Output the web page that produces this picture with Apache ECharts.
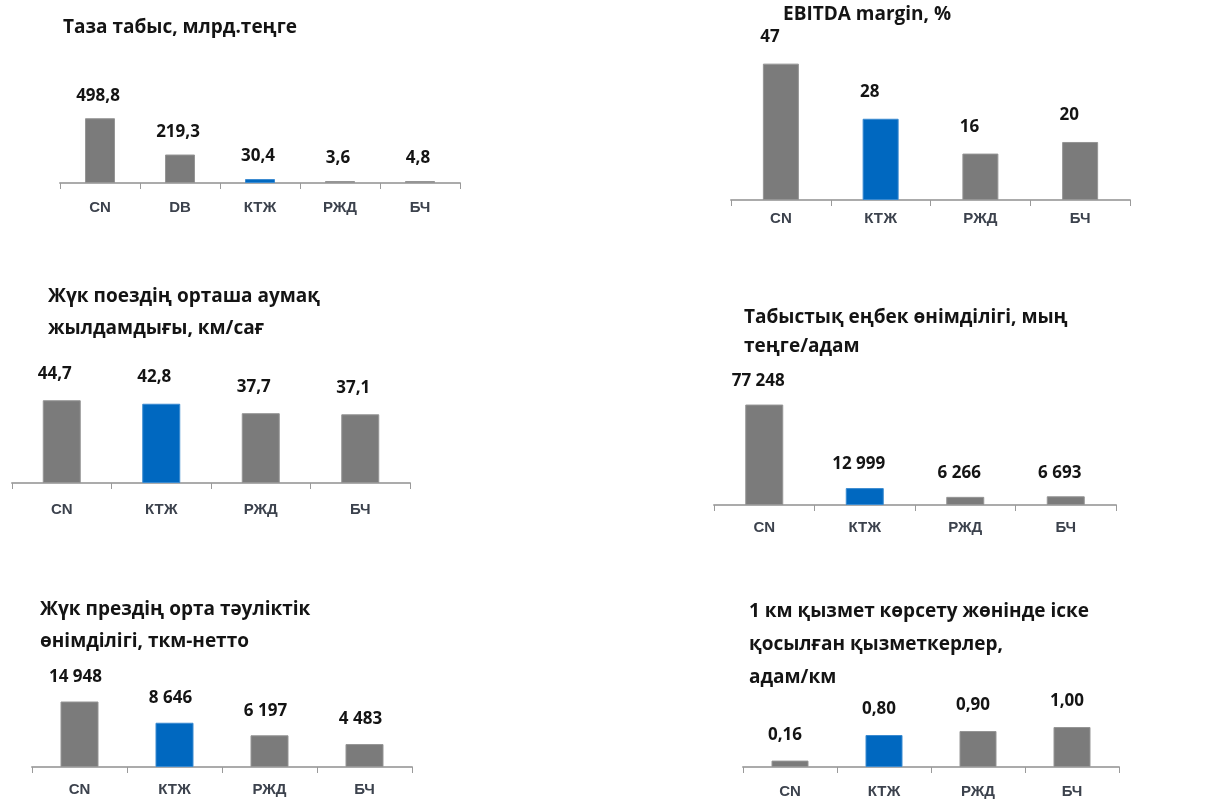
<!DOCTYPE html>
<html>
<head>
<meta charset="utf-8">
<script src="https://cdn.jsdelivr.net/npm/echarts@6/dist/echarts.min.js"></script>
<style>
html,body{margin:0;padding:0;background:#fff;}
#chart{width:1212px;height:799px;}
</style>
</head>
<body>
<div id="chart"></div>
<script>
// ---- data ----
const cats5 = ['CN', 'DB', 'КТЖ', 'РЖД', 'БЧ'];
const cats4 = ['CN', 'КТЖ', 'РЖД', 'БЧ'];
const netIncome = [498.8, 219.3, 30.4, 3.6, 4.8];
const ebitdaMargin = [47, 28, 16, 20];
const trainSpeed = [44.7, 42.8, 37.7, 37.1];
const laborProductivity = [77248, 12999, 6266, 6693];
const locoProductivity = [14948, 8646, 6197, 4483];
const staffPerKm = [0.16, 0.80, 0.90, 1.00];
const highlightCategory = 'КТЖ';

const titles = [
  'Таза табыс, млрд.теңге',
  'EBITDA margin, %',
  'Жүк поездің орташа аумақ\nжылдамдығы, км/сағ',
  'Табыстық еңбек өнімділігі, мың\nтеңге/адам',
  'Жүк прездің орта тәуліктік\nөнімділігі, ткм-нетто',
  '1 км қызмет көрсету жөнінде іске\nқосылған қызметкерлер,\nадам/км'
];

// ---- formatters ----
const dec = (d) => (v) => v.toFixed(d).replace('.', ',');
const thousands = (v) => String(v).replace(/\B(?=(\d{3})+(?!\d))/g, ' ');

const GRAY = '#7b7b7b', BLUE = '#0068c0';
const FONT = '"Open Sans", "Noto Sans", sans-serif';

// layout per panel
const panels = [
  {cats: cats5, data: netIncome, fmt: dec(1), grid: {left: 60, top: 83, width: 400, height: 100}, max: 770, barWidth: 30, dist: 14, offX: -2, margin: 17,
   title: {left: 63, top: 13, lh: 30}},
  {cats: cats4, data: ebitdaMargin, fmt: String, grid: {left: 731, top: 50, width: 399, height: 150}, max: 51.7, barWidth: 36, dist: 18, offX: -11, margin: 11,
   title: {left: 783, top: 0, lh: 30}},
  {cats: cats4, data: trainSpeed, fmt: dec(1), grid: {left: 12, top: 383, width: 398, height: 100}, max: 54, barWidth: 38, dist: 18, offX: -7, margin: 19,
   title: {left: 48, top: 281, lh: 32}},
  {cats: cats4, data: laborProductivity, fmt: thousands, grid: {left: 714, top: 395, width: 402, height: 110}, max: 84600, barWidth: 38, dist: 15, offX: -6, margin: 15,
   title: {left: 744, top: 303, lh: 29}},
  {cats: cats4, data: locoProductivity, fmt: thousands, grid: {left: 32, top: 702, width: 380, height: 65}, max: 12700, barWidth: 38, dist: 16, offX: -4, margin: 15,
   title: {left: 40, top: 594, lh: 32}},
  {cats: cats4, data: staffPerKm, fmt: dec(2), grid: {left: 743, top: 707, width: 376, height: 60}, max: 1.5, barWidth: 37, dist: 17, offX: -5, margin: 17,
   title: {left: 749, top: 595, lh: 33}}
];

const option = {
  animation: false,
  backgroundColor: '#ffffff',
  title: panels.map((p, i) => ({
    text: titles[i], left: p.title.left, top: p.title.top, padding: 0,
    textStyle: {fontFamily: FONT, fontSize: 19, fontWeight: 'bold', color: '#141414', lineHeight: p.title.lh}
  })),
  grid: panels.map(p => Object.assign({containLabel: false}, p.grid)),
  xAxis: panels.map((p, i) => ({
    type: 'category', gridIndex: i, data: p.cats,
    axisLine: {lineStyle: {color: '#ababab', width: 2}},
    axisTick: {show: true, length: 6, lineStyle: {color: '#9a9a9a', width: 1}},
    axisLabel: {fontFamily: '"Liberation Sans", Arial, sans-serif', fontSize: 15, fontWeight: 'bold', color: '#3c424d', margin: p.margin}
  })),
  yAxis: panels.map((p, i) => ({
    type: 'value', gridIndex: i, min: 0, max: p.max, show: false, splitLine: {show: false}
  })),
  series: panels.map((p, i) => ({
    type: 'bar', xAxisIndex: i, yAxisIndex: i, barWidth: p.barWidth, clip: true, barMinHeight: 2,
    data: p.data.map((v, j) => {
      const hl = p.cats[j] === highlightCategory;
      return {value: v, itemStyle: {color: hl ? BLUE : GRAY, borderColor: hl ? '#3a8ad0' : '#959595'}};
    }),
    itemStyle: {borderWidth: 1},
    label: {
      show: true, position: 'top', distance: p.dist, offset: [p.offX, 0],
      formatter: (params) => p.fmt(params.value),
      fontFamily: FONT, fontSize: 17, fontWeight: 'bold', color: '#141414'
    }
  }))
};

const chart = echarts.init(document.getElementById('chart'), null, {renderer: 'canvas'});
chart.setOption(option);
</script>
</body>
</html>
